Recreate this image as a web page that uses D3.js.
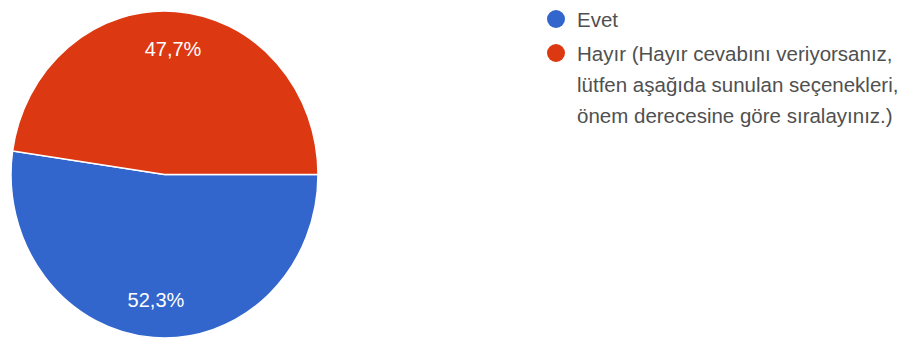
<!DOCTYPE html>
<html>
<head>
<meta charset="utf-8">
<script src="https://cdn.jsdelivr.net/npm/d3@7"></script>
<style>
  html, body { margin: 0; padding: 0; background: #ffffff; }
  svg { display: block; }
  text { font-family: "Liberation Sans", Arial, sans-serif; }
</style>
</head>
<body>
<svg id="chart" width="904" height="343"></svg>
<script>
// Survey answers and their shares (percent)
const categories = ["Evet", "Hayır (Hayır cevabını veriyorsanız, lütfen aşağıda sunulan seçenekleri, önem derecesine göre sıralayınız.)"];
const values = [52.3, 47.7];
const valueLabels = ["52,3%", "47,7%"];
const legendLines = [
  ["Evet"],
  ["Hayır (Hayır cevabını veriyorsanız,", "lütfen aşağıda sunulan seçenekleri,", "önem derecesine göre sıralayınız.)"]
];
const colors = ["#3366cc", "#dc3912"];

const svg = d3.select("#chart");

// Pie geometry (slightly taller than wide)
const cx = 164.5, cy = 174.5, rx = 153.5, ry = 163.5;
const sy = ry / rx;

const pie = d3.pie()
  .value(d => d)
  .sort(null)
  .startAngle(Math.PI / 2)
  .endAngle(Math.PI / 2 + 2 * Math.PI);

const arcs = pie(values);
const arc = d3.arc().innerRadius(0).outerRadius(rx);
const labelArc = d3.arc().innerRadius(rx * 0.77).outerRadius(rx * 0.77);

const color = d3.scaleOrdinal().domain(categories).range(colors);

const g = svg.append("g").attr("transform", `translate(${cx},${cy}) scale(1,${sy})`);
g.selectAll("path.slice")
  .data(arcs)
  .join("path")
  .attr("class", "slice")
  .attr("d", arc)
  .attr("fill", (d, i) => color(categories[i]))
  .attr("stroke", "#ffffff")
  .attr("stroke-width", 1.5)
  .attr("vector-effect", "non-scaling-stroke");

// Percentage labels inside slices
svg.append("g")
  .selectAll("text")
  .data(arcs)
  .join("text")
  .attr("x", d => cx + labelArc.centroid(d)[0])
  .attr("y", d => cy + labelArc.centroid(d)[1] * sy + 7)
  .attr("text-anchor", "middle")
  .attr("fill", "#ffffff")
  .attr("font-size", 20)
  .text((d, i) => valueLabels[i]);

// Legend
const legend = svg.append("g");
const legendX = 556, textX = 577;
const rowTops = [19, 53];
const lineStep = 31;

legendLines.forEach((lines, i) => {
  legend.append("circle")
    .attr("cx", legendX)
    .attr("cy", rowTops[i])
    .attr("r", 9)
    .attr("fill", color(categories[i]));
  const t = legend.append("text")
    .attr("x", textX)
    .attr("y", rowTops[i] + 8)
    .attr("fill", "#505050")
    .attr("font-size", 20.5);
  lines.forEach((ln, j) => {
    t.append("tspan")
      .attr("x", textX)
      .attr("dy", j === 0 ? 0 : lineStep)
      .text(ln);
  });
});
</script>
</body>
</html>
